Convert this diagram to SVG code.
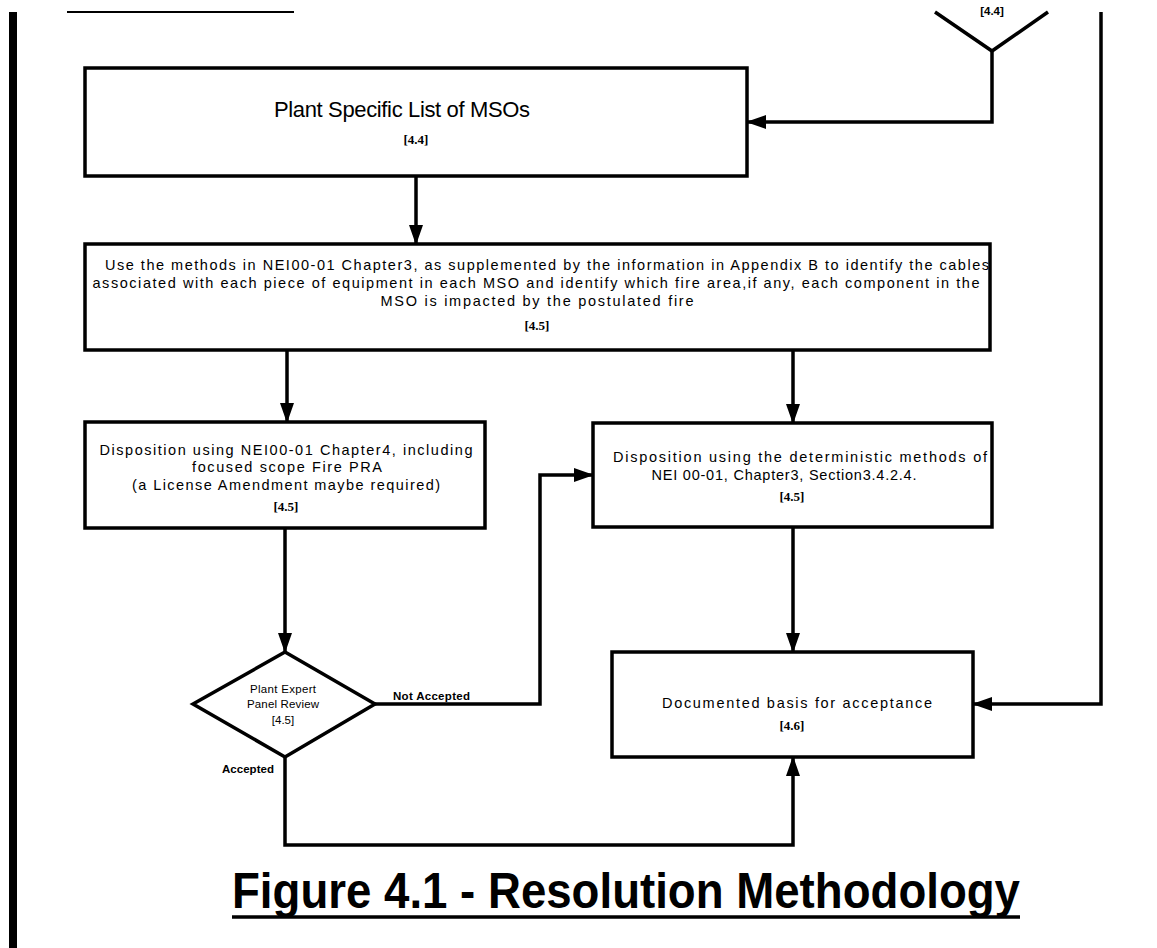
<svg xmlns="http://www.w3.org/2000/svg" width="1157" height="948" viewBox="0 0 1157 948">
<defs>
<marker id="ah" markerWidth="20" markerHeight="16" refX="19" refY="7" orient="auto" markerUnits="userSpaceOnUse"><path d="M0,0 L20,7 L0,14 z" fill="#000"/></marker>
<style>
.box{fill:#fff;stroke:#000;stroke-width:3.5}
.cn{fill:none;stroke:#000;stroke-width:3.5}
.t{font-family:"Liberation Sans",Arial,sans-serif;font-size:14.5px;fill:#000;text-anchor:middle}
.ref{font-family:"Liberation Serif","Times New Roman",serif;font-size:13px;font-weight:bold;fill:#000;text-anchor:middle}
.sm{font-family:"Liberation Sans Narrow","Liberation Sans",Arial,sans-serif;font-size:11.5px;fill:#000;text-anchor:middle}
.lbl{font-family:"Liberation Sans Narrow","Liberation Sans",Arial,sans-serif;font-size:11.5px;font-weight:bold;fill:#000}
</style>
</defs>
<rect x="9" y="12" width="8" height="936" fill="#000"/>
<line x1="67" y1="12" x2="294" y2="12" stroke="#000" stroke-width="2"/>
<g id="connectors">
<polyline class="cn" points="935,12 992,51 1048,12"/>
<polyline class="cn" points="992,51 992,122 747,122" marker-end="url(#ah)"/>
<polyline class="cn" points="1101,12 1101,704 973,704" marker-end="url(#ah)"/>
<line class="cn" x1="416" y1="176" x2="416" y2="244" marker-end="url(#ah)"/>
<line class="cn" x1="287" y1="350" x2="287" y2="422" marker-end="url(#ah)"/>
<line class="cn" x1="793" y1="350" x2="793" y2="423" marker-end="url(#ah)"/>
<line class="cn" x1="285" y1="528" x2="285" y2="652" marker-end="url(#ah)"/>
<line class="cn" x1="793" y1="527" x2="793" y2="652" marker-end="url(#ah)"/>
<polyline class="cn" points="375,704 540,704 540,475 593,475" marker-end="url(#ah)"/>
<polyline class="cn" points="285,757 285,845 793,845 793,757" marker-end="url(#ah)"/>
<text class="lbl" x="393" y="700" textLength="77">Not Accepted</text>
<text class="lbl" x="222" y="773" textLength="52">Accepted</text>
<text class="lbl" x="992" y="15" text-anchor="middle" font-size="9">[4.4]</text>
</g>
<g id="n1">
<rect class="box" x="85" y="68" width="662" height="108"/>
<text x="402" y="117" font-family="Liberation Sans Narrow,Liberation Sans,Arial,sans-serif" font-size="22" text-anchor="middle" textLength="256">Plant Specific List of MSOs</text>
<text class="ref" x="416" y="144" font-size="16" font-weight="normal">[4.4]</text>
</g>
<g id="n2">
<rect class="box" x="85" y="244" width="905" height="106"/>
<text class="t" x="547" y="270" textLength="884">Use the methods in NEI00-01 Chapter3, as supplemented by the information in Appendix B to identify the cables</text>
<text class="t" x="536" y="288" textLength="887">associated with each piece of equipment in each MSO and identify which fire area,if any, each component in the</text>
<text class="t" x="537" y="306" textLength="313">MSO is impacted by the postulated fire</text>
<text class="ref" x="537" y="330">[4.5]</text>
</g>
<g id="n3">
<rect class="box" x="85" y="422" width="400" height="106"/>
<text class="t" x="286" y="455" textLength="373">Disposition using NEI00-01 Chapter4, including</text>
<text class="t" x="287" y="472" textLength="190">focused scope Fire PRA</text>
<text class="t" x="286" y="490" textLength="308">(a License Amendment maybe required)</text>
<text class="ref" x="286" y="511">[4.5]</text>
</g>
<g id="n4">
<rect class="box" x="593" y="423" width="399" height="104"/>
<text class="t" x="800" y="462" textLength="374">Disposition using the deterministic methods of</text>
<text class="t" x="784" y="480" textLength="265">NEI 00-01, Chapter3, Section3.4.2.4.</text>
<text class="ref" x="792" y="501">[4.5]</text>
</g>
<g id="n5">
<rect class="box" x="612" y="652" width="361" height="105"/>
<text class="t" x="797" y="708" textLength="270">Documented basis for acceptance</text>
<text class="ref" x="792" y="730">[4.6]</text>
</g>
<g id="n6">
<polygon class="box" points="285,652 375,704 285,757 193,704"/>
<text class="sm" x="283" y="693" textLength="66">Plant Expert</text>
<text class="sm" x="283" y="708" textLength="72">Panel Review</text>
<text class="sm" x="283" y="724">[4.5]</text>
</g>
<g id="title">
<text x="232" y="908" font-family="Liberation Sans Narrow,Liberation Sans,Arial,sans-serif" font-size="50" font-weight="bold" textLength="788" lengthAdjust="spacingAndGlyphs">Figure 4.1 - Resolution Methodology</text>
<line x1="232" y1="917" x2="1020" y2="917" stroke="#000" stroke-width="3.5"/>
</g>
</svg>
